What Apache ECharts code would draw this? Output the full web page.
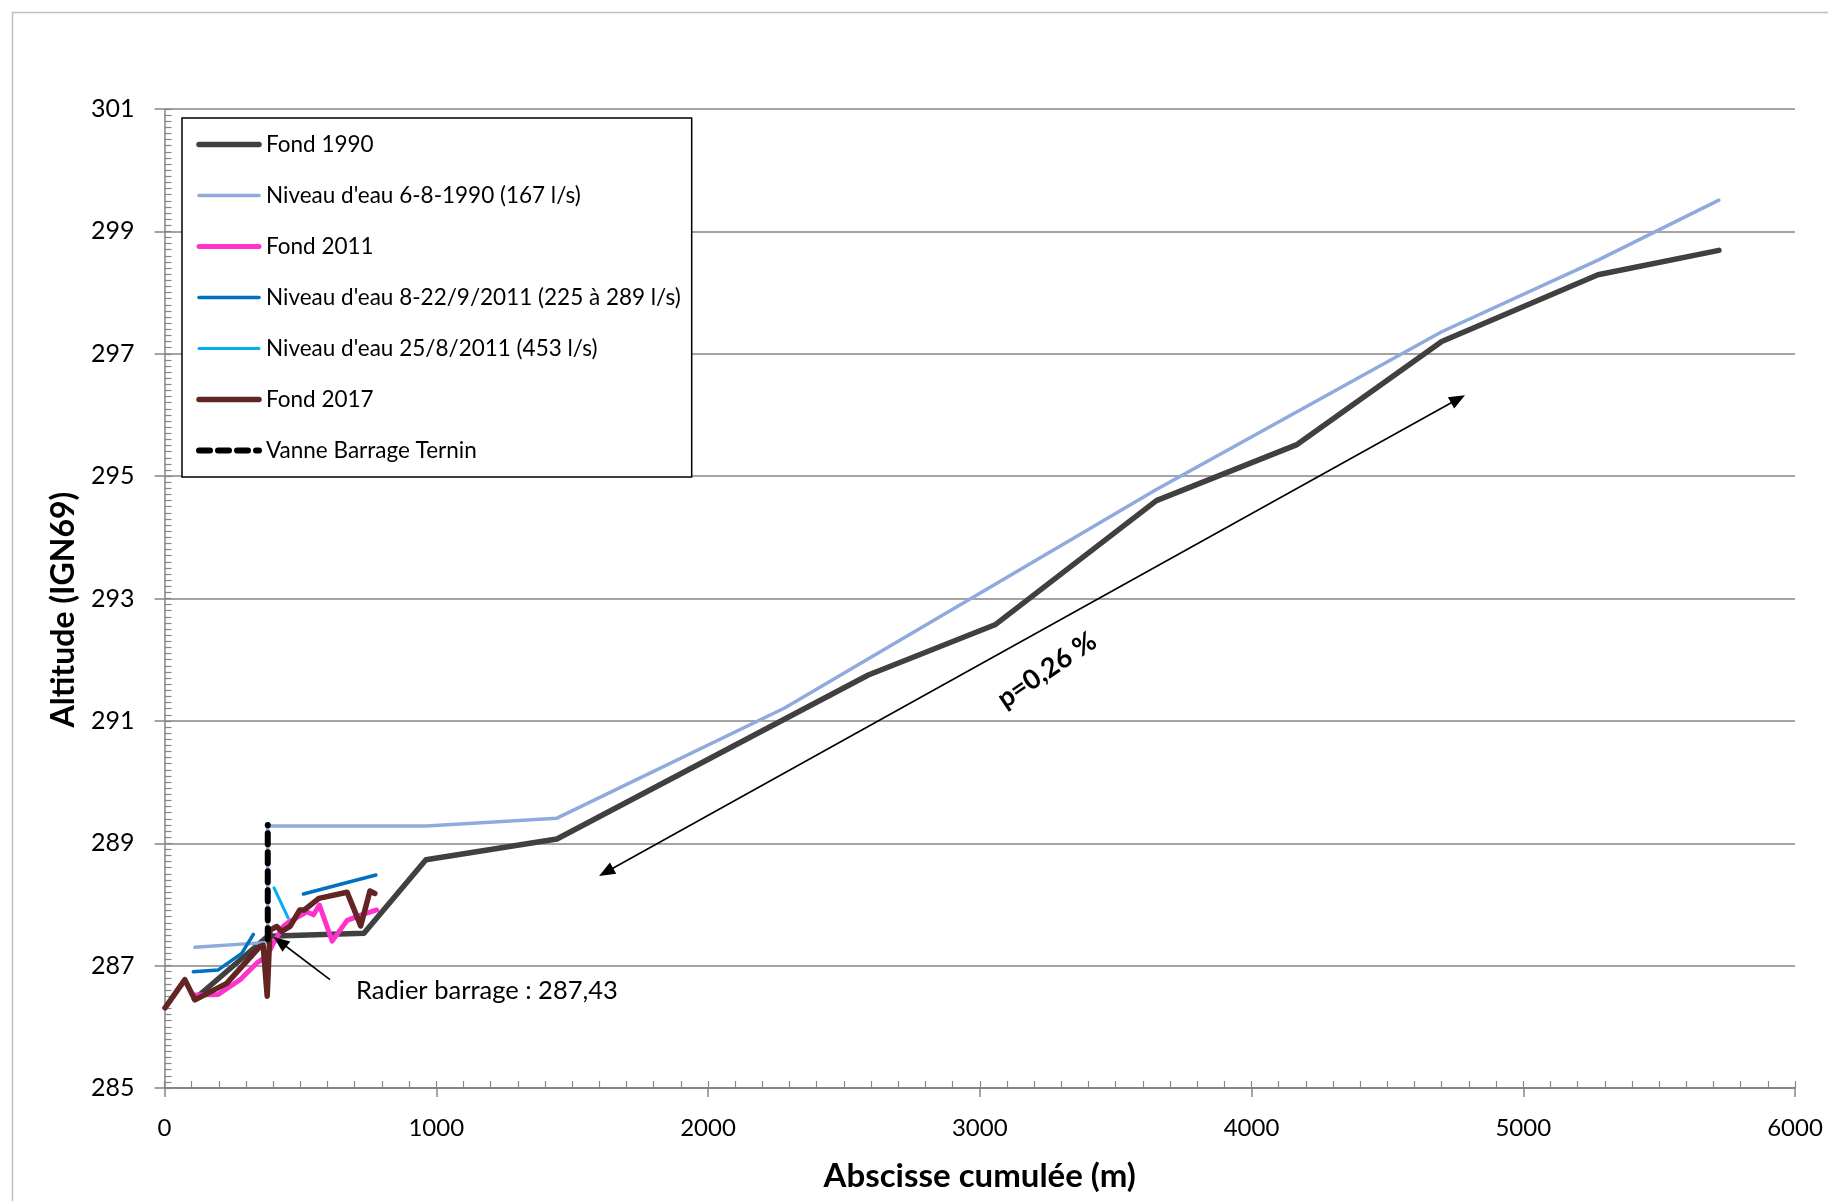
<!DOCTYPE html>
<html>
<head>
<meta charset="utf-8">
<script src="https://cdn.jsdelivr.net/npm/echarts@6/dist/echarts.min.js"></script>
<style>
html,body{margin:0;padding:0;background:#fff;}
#chart{width:1828px;height:1201px;}
</style>
</head>
<body>
<div id="chart"></div>
<script>
// ---- data (x = abscisse cumulée in m, y = altitude IGN69) ----
const fond1990 = [[110,286.45],[380,287.48],[734,287.53],[962,288.73],[1444,289.07],[2590,291.75],[3056,292.57],[3650,294.60],[4165,295.51],[4700,297.20],[5275,298.29],[5720,298.69]];
const niveau1990 = [[112,287.30],[380,287.38],[380,289.28],[964,289.28],[1444,289.41],[2282,291.21],[3650,294.78],[4700,297.36],[5275,298.53],[5720,299.51]];
const fond2011 = [[112,286.52],[198,286.53],[278,286.77],[339,287.04],[376,287.15],[400,287.36],[437,287.64],[460,287.72],[505,287.83],[523,287.88],[548,287.83],[570,287.99],[617,287.40],[672,287.74],[725,287.83],[781,287.91]];
const niveau2011sept = [[106,286.90],[198,286.93],[284,287.20],[327,287.51],null,[511,288.17],[778,288.48]];
const niveau2011aout = [[403,288.27],[455,287.78]];
const fond2017 = [[2,286.31],[75,286.77],[112,286.44],[229,286.71],[351,287.31],[363,287.33],[378,286.50],[388,287.58],[413,287.64],[431,287.56],[462,287.64],[498,287.91],[515,287.91],[568,288.10],[672,288.20],[722,287.65],[756,288.22],[774,288.18]];
const vanne = [[380,287.43],[380,289.30]];
const seriesNames = ['Fond 1990',"Niveau d'eau 6-8-1990 (167 l/s)",'Fond 2011',"Niveau d'eau 8-22/9/2011 (225 à 289 l/s)","Niveau d'eau 25/8/2011 (453 l/s)",'Fond 2017','Vanne Barrage Ternin'];
const slopeArrow = [[1625,288.53],[4760,296.26]];
const radierArrow = [[609,286.77],[425,287.39]];
const radierLabel = {pos:[703,286.59], text:'Radier barrage : 287,43'};
const slopeLabel = {pos:[3247,291.83], text:'p=0,26 %'};
const xTicks = {min:0, max:6000, step:1000, minor:100};
const yTicks = {min:285, max:301, step:2, minor:0.1};

const FONT = 'Lato';
const chart = echarts.init(document.getElementById('chart'), null, {renderer:'canvas'});

function lineSeries(name, data, color, width, extra) {
  return Object.assign({
    name: name, type: 'line', data: data, xAxisIndex: 0, yAxisIndex: 0,
    symbol: 'none', connectNulls: false, animation: false,
    lineStyle: {color: color, width: width, cap: 'round', join: 'round'},
    itemStyle: {color: color}
  }, extra || {});
}

const option = {
  backgroundColor: '#fff',
  animation: false,
  textStyle: {fontFamily: FONT},
  graphic: [{
    type: 'rect', left: 10, top: 10, z: -10,
    shape: {width: 1840, height: 1210},
    style: {fill: 'none', stroke: '#BFBFBF', lineWidth: 1.5}
  }],
  grid: {left: 164.5, right: 33, top: 109, bottom: 113, containLabel: false},
  legend: {
    orient: 'vertical', left: 182, top: 118,
    backgroundColor: '#fff', borderColor: '#000', borderWidth: 1.5,
    padding: [15, 11, 15, 14],
    itemWidth: 60, itemHeight: 14, itemGap: 28,
    itemStyle: {opacity: 0, borderWidth: 0},
    lineStyle: {width: 'inherit', type: 'inherit', cap: 'round'},
    textStyle: {fontFamily: FONT, fontSize: 22.5, color: '#000', padding: [0, 0, 0, 2]},
    data: seriesNames
  },
  xAxis: [{
    type: 'value', min: xTicks.min, max: xTicks.max, interval: xTicks.step, position: 'bottom',
    name: 'Abscisse cumulée (m)', nameLocation: 'middle', nameGap: 72,
    nameTextStyle: {fontFamily: FONT, fontSize: 33, fontWeight: 'bold', color: '#000'},
    axisLine: {show: true, lineStyle: {color: '#868686', width: 2}},
    axisTick: {show: true, inside: false, length: 9, lineStyle: {color: '#868686', width: 1.5}},
    axisLabel: {fontFamily: FONT, fontSize: 24, color: '#000', margin: 28, formatter: function (v) { return String(v); }},
    splitLine: {show: false}
  }, {
    type: 'value', min: xTicks.min, max: xTicks.max, interval: xTicks.minor, position: 'bottom', offset: 0,
    axisLine: {show: false},
    axisTick: {show: true, inside: true, length: 7, lineStyle: {color: '#868686', width: 1.2}},
    axisLabel: {show: false}, splitLine: {show: false}
  }],
  yAxis: [{
    type: 'value', min: yTicks.min, max: yTicks.max, interval: yTicks.step, position: 'left',
    name: 'Altitude (IGN69)', nameLocation: 'middle', nameGap: 81, nameRotate: 90,
    nameTextStyle: {fontFamily: FONT, fontSize: 32, fontWeight: 'bold', color: '#000', padding: [0, 22, 0, 0]},
    axisLine: {show: true, lineStyle: {color: '#868686', width: 1.5}},
    axisTick: {show: true, inside: false, length: 10, lineStyle: {color: '#868686', width: 1.5}},
    axisLabel: {fontFamily: FONT, fontSize: 25, color: '#000', margin: 30},
    splitLine: {show: true, lineStyle: {color: '#868686', width: 1.5}}
  }, {
    type: 'value', min: yTicks.min, max: yTicks.max, interval: yTicks.minor, position: 'left', offset: 0,
    axisLine: {show: false},
    axisTick: {show: true, inside: true, length: 7, lineStyle: {color: '#868686', width: 1.2}},
    axisLabel: {show: false}, splitLine: {show: false}
  }],
  series: [
    lineSeries(seriesNames[0], fond1990, '#404040', 5.5),
    lineSeries(seriesNames[1], niveau1990, '#8FAADC', 3.5),
    lineSeries(seriesNames[2], fond2011, '#FF33CC', 5),
    lineSeries(seriesNames[3], niveau2011sept, '#0070C0', 3.5),
    lineSeries(seriesNames[4], niveau2011aout, '#00B0F0', 3),
    lineSeries(seriesNames[5], fond2017, '#632523', 5.5),
    lineSeries(seriesNames[6], vanne, '#000000', 6, {
      lineStyle: {color: '#000', width: 6, type: [11, 8], cap: 'round'},
      markLine: {
        silent: true, animation: false,
        symbol: ['triangle', 'triangle'], symbolSize: [13, 16],
        lineStyle: {color: '#000', width: 1.6, type: 'solid'},
        label: {show: false},
        emphasis: {disabled: true},
        data: [
          [{coord: slopeArrow[0]}, {coord: slopeArrow[1]}],
          [{coord: radierArrow[0], symbol: 'none'}, {coord: radierArrow[1], symbol: 'triangle'}]
        ]
      },
      markPoint: {
        silent: true, animation: false,
        symbol: 'circle', symbolSize: 1,
        itemStyle: {color: 'rgba(0,0,0,0)'},
        data: [
          {coord: radierLabel.pos, label: {show: true, formatter: radierLabel.text, position: 'right', distance: 0,
            fontFamily: FONT, fontSize: 25.5, color: '#000'}},
          {coord: slopeLabel.pos, label: {show: true, formatter: slopeLabel.text, position: 'inside', rotate: 34,
            fontFamily: FONT, fontSize: 27, fontWeight: 'bold', color: '#000'}}
        ]
      }
    })
  ]
};
chart.setOption(option);
</script>
</body>
</html>
